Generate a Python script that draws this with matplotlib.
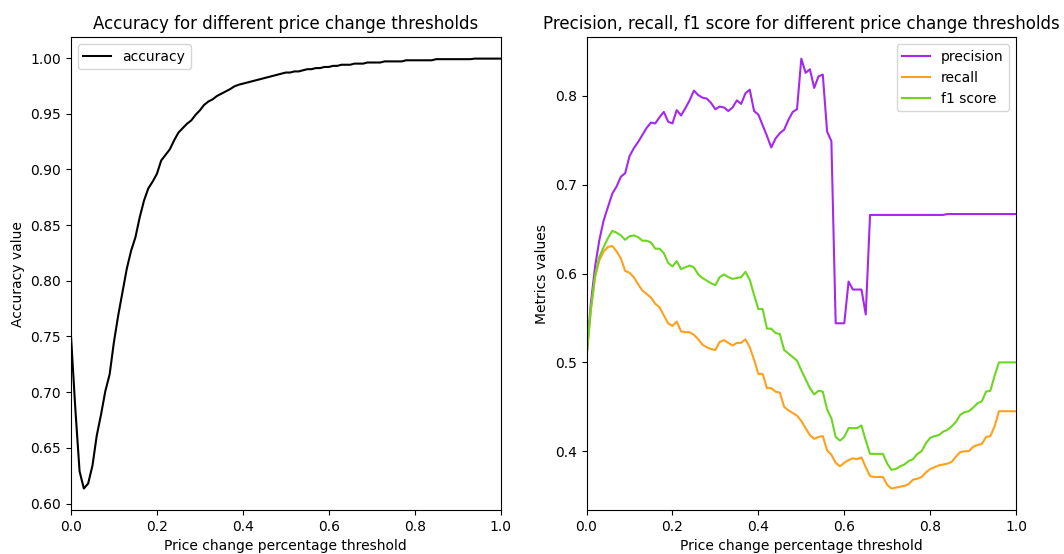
import numpy as np
import matplotlib
matplotlib.use('Agg')
import matplotlib.pyplot as plt

# price change thresholds, 0.00 .. 1.00 in steps of 0.01
thresholds = np.round(np.arange(0, 101) * 0.01, 2)

accuracy = [
    0.751, 0.686, 0.629, 0.6135, 0.618, 0.634, 0.661, 0.680, 0.701, 0.716,
    0.745, 0.769, 0.790, 0.811, 0.827, 0.839, 0.857, 0.872, 0.883, 0.889,
    0.896, 0.908, 0.913, 0.918, 0.926, 0.933, 0.937, 0.941, 0.944, 0.949,
    0.953, 0.958, 0.961, 0.963, 0.966, 0.968, 0.970, 0.972, 0.9745, 0.976,
    0.977, 0.978, 0.979, 0.980, 0.981, 0.982, 0.983, 0.984, 0.985, 0.986,
    0.987, 0.987, 0.988, 0.988, 0.989, 0.990, 0.990, 0.991, 0.991, 0.992,
    0.992, 0.993, 0.993, 0.994, 0.994, 0.994, 0.995, 0.995, 0.995, 0.996,
    0.996, 0.996, 0.996, 0.997, 0.997, 0.997, 0.997, 0.997, 0.998, 0.998,
    0.998, 0.998, 0.998, 0.998, 0.998, 0.999, 0.999, 0.999, 0.999, 0.999,
    0.999, 0.999, 0.999, 0.999, 0.9995, 0.9995, 0.9995, 0.9995, 0.9995, 0.9995,
    0.9995,
]

precision = [
    0.506, 0.566, 0.608, 0.638, 0.660, 0.675, 0.690, 0.698, 0.709, 0.713,
    0.732, 0.741, 0.748, 0.756, 0.764, 0.770, 0.769, 0.776, 0.782, 0.771,
    0.769, 0.784, 0.778, 0.786, 0.795, 0.806, 0.801, 0.798, 0.797, 0.792,
    0.785, 0.788, 0.787, 0.783, 0.787, 0.795, 0.791, 0.803, 0.807, 0.783,
    0.779, 0.767, 0.755, 0.742, 0.752, 0.758, 0.762, 0.773, 0.782, 0.785,
    0.842, 0.826, 0.830, 0.809, 0.822, 0.824, 0.760, 0.749, 0.544, 0.544,
    0.544, 0.591, 0.582, 0.582, 0.582, 0.554, 0.666, 0.666, 0.666, 0.666,
    0.666, 0.666, 0.666, 0.666, 0.666, 0.666, 0.666, 0.666, 0.666, 0.666,
    0.666, 0.666, 0.666, 0.666, 0.667, 0.667, 0.667, 0.667, 0.667, 0.667,
    0.667, 0.667, 0.667, 0.667, 0.667, 0.667, 0.667, 0.667, 0.667, 0.667,
    0.667,
]

recall = [
    0.506, 0.559, 0.596, 0.615, 0.625, 0.630, 0.631, 0.625, 0.617, 0.603,
    0.601, 0.596, 0.588, 0.581, 0.577, 0.573, 0.566, 0.562, 0.553, 0.544,
    0.541, 0.546, 0.535, 0.534, 0.534, 0.531, 0.526, 0.520, 0.517, 0.515,
    0.514, 0.523, 0.525, 0.522, 0.519, 0.522, 0.522, 0.526, 0.517, 0.503,
    0.487, 0.487, 0.471, 0.471, 0.467, 0.466, 0.450, 0.446, 0.443, 0.440,
    0.434, 0.426, 0.418, 0.414, 0.416, 0.417, 0.401, 0.396, 0.387, 0.383,
    0.387, 0.390, 0.392, 0.391, 0.393, 0.382, 0.372, 0.371, 0.371, 0.371,
    0.362, 0.358, 0.359, 0.360, 0.361, 0.363, 0.368, 0.369, 0.371, 0.376,
    0.380, 0.382, 0.384, 0.385, 0.386, 0.388, 0.394, 0.399, 0.400, 0.400,
    0.405, 0.407, 0.408, 0.416, 0.417, 0.428, 0.445, 0.445, 0.445, 0.445,
    0.445,
]

f1 = [
    0.506, 0.559, 0.598, 0.619, 0.630, 0.640, 0.648, 0.646, 0.643, 0.638,
    0.642, 0.643, 0.641, 0.637, 0.637, 0.635, 0.628, 0.628, 0.623, 0.612,
    0.608, 0.614, 0.605, 0.607, 0.609, 0.607, 0.599, 0.595, 0.592, 0.589,
    0.587, 0.596, 0.599, 0.596, 0.594, 0.595, 0.596, 0.602, 0.593, 0.576,
    0.560, 0.560, 0.538, 0.538, 0.533, 0.532, 0.514, 0.510, 0.506, 0.502,
    0.491, 0.481, 0.471, 0.464, 0.468, 0.467, 0.447, 0.437, 0.416, 0.412,
    0.416, 0.426, 0.426, 0.426, 0.429, 0.412, 0.397, 0.397, 0.397, 0.397,
    0.386, 0.379, 0.380, 0.383, 0.385, 0.389, 0.391, 0.397, 0.400, 0.409,
    0.415, 0.417, 0.418, 0.422, 0.424, 0.428, 0.433, 0.441, 0.444, 0.445,
    0.449, 0.454, 0.456, 0.467, 0.468, 0.485, 0.500, 0.500, 0.500, 0.500,
    0.500,
]

fig, (ax1, ax2) = plt.subplots(1, 2, figsize=(10.64, 5.54), dpi=100)
fig.subplots_adjust(left=0.0667, right=0.955, bottom=0.0794, top=0.933, wspace=0.2)

ax1.plot(thresholds, accuracy, color='black', label='accuracy')
ax1.set_xlim(0, 1)
ax1.set_title('Accuracy for different price change thresholds')
ax1.set_xlabel('Price change percentage threshold')
ax1.set_ylabel('Accuracy value')
ax1.legend(loc='upper left')

ax2.plot(thresholds, precision, color='#a428f0', label='precision')
ax2.plot(thresholds, recall, color='#ffa01c', label='recall')
ax2.plot(thresholds, f1, color='#6cd620', label='f1 score')
ax2.set_xlim(0, 1)
ax2.set_title('Precision, recall, f1 score for different price change thresholds')
ax2.set_xlabel('Price change percentage threshold')
ax2.set_ylabel('Metrics values')
ax2.legend(loc='upper right')

plt.savefig('out.png')
